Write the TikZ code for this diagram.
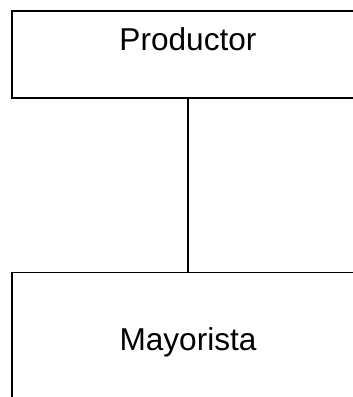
\documentclass[tikz,border=0pt]{standalone}
\usepackage{fontspec}
\setmainfont{Liberation Sans}
\usepackage{tikz}
\usetikzlibrary{positioning}

\begin{document}
\begin{tikzpicture}[x=1bp, y=-1bp,
    box/.style={draw, line width=1.7bp, rectangle, minimum width=352bp, inner sep=0pt, anchor=north, font=\fontsize{31.6bp}{36bp}\selectfont}
  ]
    \useasboundingbox (0,0) rectangle (353,397);
    \clip (0,0) rectangle (353,397);
    \node[box, text height=40bp, text depth=47bp] (prod) at (188,10) {Productor};
    \node[box, text height=78bp, text depth=56bp, below=173bp of prod] (may) {Mayorista};
    \draw[line width=1.7bp] (prod) -- (may);
  \end{tikzpicture}
\end{document}
